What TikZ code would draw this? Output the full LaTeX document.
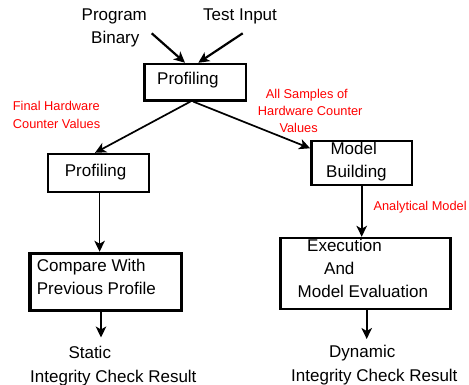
\documentclass[tikz,border=0pt]{standalone}
\usepackage{fontspec}
\setmainfont{Liberation Sans}
\usetikzlibrary{arrows.meta,calc}
\begin{document}
\begin{tikzpicture}[x=1pt,y=-1pt,
  blk/.style={draw, line width=2.4pt, inner sep=0pt},
  lbl/.style={font=\fontsize{17}{20}\selectfont, inner sep=0pt, anchor=base west},
  rlbl/.style={font=\fontsize{12.8}{15}\selectfont, text=red, inner sep=0pt, anchor=base west},
  bigarrow/.style={line width=2.2pt, -{Stealth[length=11pt,width=10.5pt,inset=3pt]}},
  conn/.style={line width=1.7pt, -{Stealth[length=11pt,width=10.5pt,inset=3pt]}}]
\fill[white] (0,0) rectangle (469,385);
\useasboundingbox (0,0) rectangle (469,385);

% boxes
\node[blk, minimum width=101.5pt, minimum height=36.5pt] (p1) at (195.3,82.2) {};
\node[blk, minimum width=100.8pt, minimum height=38pt] (p2) at (98.4,173) {};
\node[blk, minimum width=100.7pt, minimum height=44pt] (mb) at (361.7,163.3) {};
\node[blk, minimum width=170pt, minimum height=70.8pt] (ex) at (365.5,273.4) {};
\node[blk, line width=3.5pt, minimum width=151.5pt, minimum height=56.8pt] (cp) at (105.5,281.9) {};

% texts
\node[lbl] (tProg) at (81.5,20.5) {Program};
\node[lbl] (tBin) at (91,43.5) {Binary};
\node[lbl] (tTest) at (203,20.5) {Test Input};
\node[lbl] (tP1) at (157,84.5) {Profiling};
\node[rlbl] (r1) at (12.7,111) {Final Hardware};
\node[rlbl] (r2) at (12.7,129) {Counter Values};
\node[rlbl] (r3) at (265.7,98.7) {All Samples of};
\node[rlbl] (r4) at (257.7,116) {Hardware Counter};
\node[rlbl] (r5) at (279.3,133) {Values};
\node[lbl] (tP2) at (64.7,176.7) {Profiling};
\node[lbl] (tM1) at (330.3,155) {Model};
\node[lbl] (tM2) at (326,177.7) {Building};
\node[rlbl] (r6) at (373.3,210.7) {Analytical Model};
\node[lbl] (tE1) at (307,251.5) {Execution};
\node[lbl] (tE2) at (324,274) {And};
\node[lbl] (tE3) at (297.5,298) {Model Evaluation};
\node[lbl] (tC1) at (36.7,272) {Compare With};
\node[lbl] (tC2) at (36.7,294.7) {Previous Profile};
\node[lbl] (tS1) at (68.3,358.5) {Static};
\node[lbl] (tS2) at (30,382) {Integrity Check Result};
\node[lbl] (tD1) at (329,357) {Dynamic};
\node[lbl] (tD2) at (291,381.5) {Integrity Check Result};

% connectors
\coordinate (s1) at (151.7,33.3);
\coordinate (s2) at (242.7,33.3);
\draw[bigarrow] (s1) -- ($(p1.north)+(-10.3,0)$);
\draw[bigarrow] (s2) -- ($(p1.north)+(3,0)$);
\draw[conn] ($(p1.south)+(-5,0)$) -- ($(p2.north)+(-3.4,0)$);
\draw[conn] ($(p1.south)+(-2,0)$) -- ($(mb.west)+(0,-15)$);
\draw[conn] ($(p2.south)+(1.2,0)$) coordinate (q1) -- (q1 |- cp.north);
\coordinate (e1) at (101,337.5);
\draw[conn] (e1 |- cp.south) -- (e1);
\draw[conn] (mb.south) -- (mb.south |- ex.north);
\coordinate (e2) at (366.7,339);
\draw[conn] (e2 |- ex.south) -- (e2);
\end{tikzpicture}
\end{document}
